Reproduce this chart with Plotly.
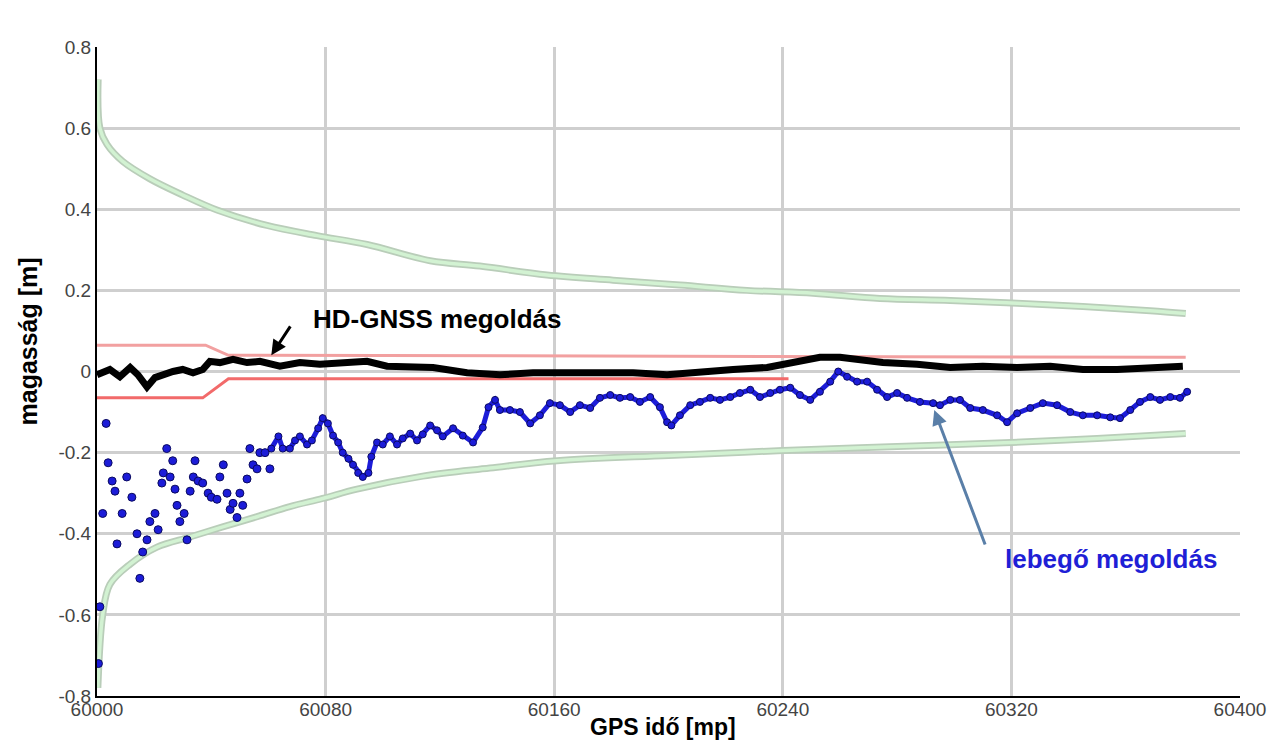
import plotly.graph_objects as go

# ---------------- data ----------------
t0 = 60000

green_up_t = [0.4, 1, 3.5, 9, 18.5, 30, 42, 59.5, 77, 94.5, 116.6, 134, 157.5, 180.6, 204, 227.5, 250.6, 274, 298.6, 322, 345, 368.6, 381]
green_up_v = [0.72, 0.60, 0.56, 0.518, 0.475, 0.435, 0.398, 0.36, 0.335, 0.313, 0.273, 0.26, 0.238, 0.225, 0.213, 0.20, 0.193, 0.18, 0.175, 0.168, 0.16, 0.15, 0.143]

green_lo_t = [0.3, 2, 4.5, 11.6, 21, 32.5, 44, 56, 67.5, 79, 91, 114, 137.5, 161, 200, 240, 280, 320, 350, 381]
green_lo_v = [-0.78, -0.60, -0.525, -0.475, -0.433, -0.408, -0.383, -0.358, -0.333, -0.313, -0.29, -0.258, -0.238, -0.22, -0.207, -0.195, -0.185, -0.175, -0.165, -0.153]

red_up_t = [0, 38, 46, 381]
red_up_v = [0.065, 0.065, 0.04, 0.035]
red_lo_t = [0, 37, 46, 242]
red_lo_v = [-0.065, -0.065, -0.018, -0.018]

hd_t = [0, 4.5, 8, 11.6, 14.3, 17.5, 20.3, 23, 26.6, 30, 33.6, 37, 39.5, 43, 47.6, 52.5, 57, 64, 71, 78, 86, 94.5,
        101.5, 109.6, 117.6, 129.5, 141, 152.6, 164.5, 176, 187.6, 199.5, 211, 222.6, 234.5, 240, 246, 253, 260, 267,
        275, 287, 298.6, 310, 322, 333.6, 345, 357, 368.6, 380]
hd_v = [-0.008, 0.005, -0.013, 0.01, -0.008, -0.038, -0.015, -0.008, 0.0, 0.005, -0.003, 0.005, 0.025, 0.022, 0.03,
        0.022, 0.025, 0.013, 0.022, 0.018, 0.022, 0.025, 0.013, 0.013, 0.01, -0.003, -0.008, -0.003, -0.003, 0.0,
        -0.003, -0.008, 0.0, 0.005, 0.01, 0.018, 0.025, 0.035, 0.035, 0.03, 0.022, 0.018, 0.01, 0.013, 0.01, 0.013,
        0.005, 0.005, 0.01, 0.013]

float_early_t = [0.5, 1, 2, 3.2, 3.9, 5.3, 6.3, 7, 8.8, 10.4, 12.2, 14, 15, 16, 17.5, 18.5, 20.3, 21.4, 22.7, 23.2,
                 24.4, 25.6, 26.5, 27.3, 28, 29, 30.5, 31.5, 32.6, 33.7, 34.3, 35.4, 37, 38.9, 40, 42, 43, 44.2,
                 45.5, 46.6, 47.6, 49, 50, 51, 52.5, 53.5, 54.6, 56, 57, 58.8, 60.5]
float_early_v = [-0.72, -0.58, -0.35, -0.128, -0.225, -0.27, -0.295, -0.425, -0.35, -0.26, -0.31, -0.40, -0.51,
                 -0.445, -0.415, -0.37, -0.35, -0.39, -0.275, -0.25, -0.19, -0.26, -0.22, -0.29, -0.33, -0.37,
                 -0.35, -0.415, -0.295, -0.26, -0.22, -0.27, -0.275, -0.30, -0.31, -0.315, -0.26, -0.23, -0.30,
                 -0.34, -0.325, -0.36, -0.30, -0.33, -0.265, -0.19, -0.23, -0.24, -0.20, -0.20, -0.24]

float_t = [61, 63.5, 65, 67.5, 69.3, 71, 73.5, 75.2, 77.4, 79, 80.8, 82.6, 84.4, 86, 88, 89.6, 91.4, 93, 95, 96, 98,
           100, 102.5, 105, 107, 109.6, 112, 114, 116.6, 119, 121, 124.6, 128, 131.6, 135, 137, 139.3, 141, 144.5,
           148, 151.6, 155, 158.5, 162, 165.6, 169, 172.6, 176, 179.6, 183, 186.6, 190, 193.6, 197, 199.5, 201,
           204, 207.6, 211, 214.6, 218, 221.6, 225, 228.6, 232, 235.6, 239, 242.6, 246, 249.6, 253, 256.6, 259.4,
           262.5, 266, 269.5, 273, 276.5, 280, 283.5, 288, 292.6, 295, 298.6, 302, 305.6, 310, 315, 318.5, 322,
           326.6, 331, 336, 340.6, 345, 350, 354.6, 358, 361.6, 365, 368.6, 372, 375.6, 379, 381.5]
float_v = [-0.19, -0.16, -0.19, -0.19, -0.17, -0.16, -0.18, -0.17, -0.14, -0.115, -0.128, -0.158, -0.175, -0.20,
           -0.215, -0.23, -0.25, -0.26, -0.25, -0.21, -0.175, -0.18, -0.16, -0.18, -0.165, -0.153, -0.17, -0.155,
           -0.133, -0.145, -0.16, -0.14, -0.158, -0.175, -0.138, -0.088, -0.07, -0.095, -0.095, -0.10, -0.128,
           -0.108, -0.078, -0.083, -0.10, -0.083, -0.09, -0.065, -0.058, -0.065, -0.063, -0.075, -0.063, -0.088,
           -0.125, -0.133, -0.108, -0.083, -0.075, -0.065, -0.07, -0.063, -0.053, -0.045, -0.063, -0.053, -0.045,
           -0.04, -0.058, -0.07, -0.05, -0.025, 0.0, -0.013, -0.025, -0.025, -0.045, -0.063, -0.053, -0.065,
           -0.075, -0.078, -0.083, -0.07, -0.07, -0.09, -0.095, -0.108, -0.125, -0.103, -0.09, -0.078, -0.083,
           -0.10, -0.108, -0.108, -0.113, -0.115, -0.095, -0.075, -0.063, -0.07, -0.063, -0.065, -0.05]

x_ticks = [60000, 60080, 60160, 60240, 60320, 60400]
x_tick_labels = ["60000", "60080", "60160", "60240", "60320", "60400"]
y_ticks = [0.8, 0.6, 0.4, 0.2, 0, -0.2, -0.4, -0.6, -0.8]
y_tick_labels = ["0.8", "0.6", "0.4", "0.2", "0", "-0.2", "-0.4", "-0.6", "-0.8"]

def abs_t(ts):
    return [t0 + t for t in ts]

fig = go.Figure()

# green envelopes (outlined light green)
for tt, vv in [(green_up_t, green_up_v), (green_lo_t, green_lo_v)]:
    fig.add_trace(go.Scatter(x=abs_t(tt), y=vv, mode="lines", line=dict(color="#b9cdb9", width=7, shape="spline"),
                             hoverinfo="skip", showlegend=False))
    fig.add_trace(go.Scatter(x=abs_t(tt), y=vv, mode="lines", line=dict(color="#d2f2d2", width=3.5, shape="spline"),
                             hoverinfo="skip", showlegend=False))

# red envelopes
fig.add_trace(go.Scatter(x=abs_t(red_up_t), y=red_up_v, mode="lines", line=dict(color="#f2a0a0", width=3),
                         hoverinfo="skip", showlegend=False))
fig.add_trace(go.Scatter(x=abs_t(red_lo_t), y=red_lo_v, mode="lines", line=dict(color="#f26a6a", width=3),
                         hoverinfo="skip", showlegend=False))

# float solution (blue)
fig.add_trace(go.Scatter(x=abs_t(float_early_t), y=float_early_v, mode="markers",
                         marker=dict(color="#1c1cd8", size=8, line=dict(color="#0a0a60", width=1)),
                         showlegend=False, name="lebegő megoldás"))
fig.add_trace(go.Scatter(x=abs_t(float_t), y=float_v, mode="lines+markers",
                         line=dict(color="#1c1cd8", width=5),
                         marker=dict(color="#1c1cd8", size=7, line=dict(color="#0a0a60", width=1)),
                         showlegend=False, name="lebegő megoldás"))

# HD-GNSS solution (black)
fig.add_trace(go.Scatter(x=abs_t(hd_t), y=hd_v, mode="lines", line=dict(color="#000000", width=7),
                         showlegend=False, name="HD-GNSS megoldás"))

font_bold = "Liberation Sans, Arial, sans-serif"

annotations = [
    dict(x=60119, y=0.13, xref="x", yref="y", text="<b>HD-GNSS megoldás</b>", showarrow=False,
         font=dict(family=font_bold, size=26, color="#000000")),
    dict(x=60061, y=0.04, ax=60068, ay=0.115, xref="x", yref="y", axref="x", ayref="y", text="",
         showarrow=True, arrowhead=2, arrowsize=1, arrowwidth=3, arrowcolor="#000000"),
    dict(x=60355, y=-0.4625, xref="x", yref="y", text="<b>lebegő megoldás</b>", showarrow=False,
         font=dict(family=font_bold, size=26, color="#1f1fd6")),
    dict(x=60293, y=-0.095, ax=60311, ay=-0.43, xref="x", yref="y", axref="x", ayref="y", text="",
         showarrow=True, arrowhead=2, arrowsize=1, arrowwidth=3, arrowcolor="#5a7fa8"),
    dict(x=60198, y=-0.047, xref="x", yref="paper", text="<b>GPS idő [mp]</b>", showarrow=False,
         yanchor="middle", font=dict(family=font_bold, size=23, color="#000000")),
    dict(x=-0.06, y=0.075, xref="paper", yref="y", text="<b>magasság [m]</b>", showarrow=False,
         textangle=-90, xanchor="center", font=dict(family=font_bold, size=25, color="#000000")),
]

# the page body has an 8px margin, so the figure is sized and padded to compensate
fig.update_layout(
    width=1271, height=736,
    margin=dict(l=89, r=39, t=39, b=48),
    paper_bgcolor="white", plot_bgcolor="white",
    annotations=annotations,
    xaxis=dict(range=[60000, 60400], tickvals=x_ticks, ticktext=x_tick_labels,
               showgrid=True, gridcolor="#cfcfcf", gridwidth=3, zeroline=False,
               showline=True, linecolor="#000000", linewidth=2, automargin=False,
               ticks="", ticklabelstandoff=-5,
               tickfont=dict(family="Liberation Sans, Arial", size=19, color="#444444")),
    yaxis=dict(range=[-0.8, 0.8], tickvals=y_ticks, ticktext=y_tick_labels,
               showgrid=True, gridcolor="#cfcfcf", gridwidth=3, zeroline=False,
               showline=True, linecolor="#000000", linewidth=2, automargin=False,
               ticks="", tickfont=dict(family="Liberation Sans, Arial", size=19, color="#444444")),
)

fig.write_html("out.html")
